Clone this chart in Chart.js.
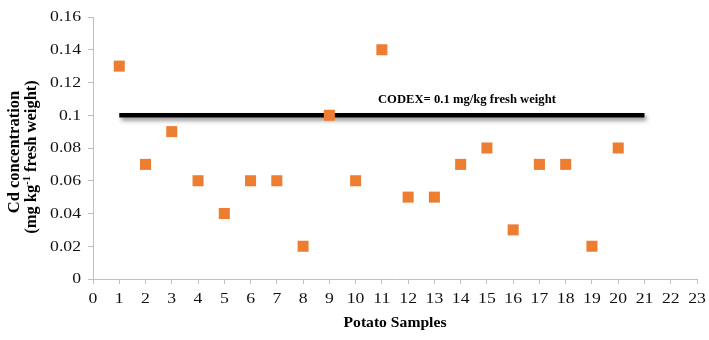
<!DOCTYPE html>
<html>
<head>
<meta charset="utf-8">
<script src="https://cdn.jsdelivr.net/npm/chart.js@4/dist/chart.umd.min.js"></script>
<style>
  html, body { margin: 0; padding: 0; background: #fff; }
  #wrap { width: 709px; height: 340px; }
</style>
</head>
<body>
<div id="wrap"><canvas id="c" width="709" height="340"></canvas></div>
<script>
// Potato sample numbers and measured Cd levels (mg/kg fresh weight)
const samples = [1,2,3,4,5,6,7,8,9,10,11,12,13,14,15,16,17,18,19,20];
const cdValues = [0.13,0.07,0.09,0.06,0.04,0.06,0.06,0.02,0.10,0.06,0.14,0.05,0.05,0.07,0.08,0.03,0.07,0.07,0.02,0.08];
// Axis tick labels
const xTickValues = [0,1,2,3,4,5,6,7,8,9,10,11,12,13,14,15,16,17,18,19,20,21,22,23];
const yTickLabels = ['0','0.02','0.04','0.06','0.08','0.1','0.12','0.14','0.16'];
// CODEX limit drawn as a horizontal reference line
const codexLimit = 0.1;
const codexSpan = [1, 21];
const codexLabel = 'CODEX= 0.1 mg/kg fresh weight';
const xTitle = 'Potato Samples';
const yTitleLine1 = 'Cd concentration';
const yTitleLine2 = ['(mg kg', '-1', ' fresh weight)'];

const serif = "'Liberation Serif', 'Times New Roman', serif";
const WIDE = 1.18; // glyphs are set slightly wide

// draw text with a horizontal stretch; align: 'left' | 'center' | 'right'
function wideText(ctx, text, x, y, font, align, sx) {
  ctx.save();
  ctx.font = font;
  ctx.textAlign = 'left';
  const w = ctx.measureText(text).width * sx;
  let left = x;
  if (align === 'center') left = x - w / 2;
  if (align === 'right') left = x - w;
  ctx.translate(left, y);
  ctx.scale(sx, 1);
  ctx.fillText(text, 0, 0);
  ctx.restore();
}

const shadowPlugin = {
  id: 'lineShadow',
  beforeDatasetDraw(chart, args) {
    if (args.index === 1) {
      const ctx = chart.ctx;
      ctx.save();
      ctx.shadowColor = 'rgba(0,0,0,0.45)';
      ctx.shadowBlur = 4;
      ctx.shadowOffsetX = 2;
      ctx.shadowOffsetY = 3;
    }
  },
  afterDatasetDraw(chart, args) {
    if (args.index === 1) chart.ctx.restore();
  }
};

const textPlugin = {
  id: 'chartText',
  afterDraw(chart) {
    const ctx = chart.ctx;
    const xs = chart.scales.x, ys = chart.scales.y;
    ctx.save();
    ctx.fillStyle = '#111';
    ctx.textBaseline = 'middle';
    const tickFont = '15px ' + serif;
    xTickValues.forEach(v => {
      wideText(ctx, String(v), xs.getPixelForValue(v), 299, tickFont, 'center', WIDE);
    });
    yTickLabels.forEach(t => {
      wideText(ctx, t, 81, ys.getPixelForValue(parseFloat(t)) + 0.5, tickFont, 'right', WIDE);
    });

    // CODEX annotation above the limit line
    ctx.fillStyle = '#000';
    ctx.textBaseline = 'alphabetic';
    const codexFont = 'bold 13px ' + serif;
    ctx.font = codexFont;
    const cw = ctx.measureText(codexLabel).width;
    wideText(ctx, codexLabel, xs.getPixelForValue(10.85), ys.getPixelForValue(codexLimit) - 12, codexFont, 'left', 178 / cw);

    // x axis title
    const titleFont = 'bold 15px ' + serif;
    ctx.font = titleFont;
    const tw = ctx.measureText(xTitle).width;
    wideText(ctx, xTitle, 395, 327, titleFont, 'center', 103 / tw);

    // y axis title, two rotated lines (baseline on the right side)
    const yFont = 'bold 16.5px ' + serif;
    const supFont = 'bold 10.5px ' + serif;
    ctx.textBaseline = 'alphabetic';

    ctx.save();
    ctx.translate(19, 152);
    ctx.rotate(-Math.PI / 2);
    ctx.scale(1, 1.04);
    ctx.textAlign = 'center';
    ctx.font = yFont;
    ctx.fillText(yTitleLine1, 0, 0);
    ctx.restore();

    ctx.save();
    ctx.translate(36, 157);
    ctx.rotate(-Math.PI / 2);
    ctx.scale(1, 1.04);
    ctx.textAlign = 'left';
    ctx.font = yFont;
    const w0 = ctx.measureText(yTitleLine2[0]).width;
    const w2 = ctx.measureText(yTitleLine2[2]).width;
    ctx.font = supFont;
    const w1 = ctx.measureText(yTitleLine2[1]).width;
    let pos = -(w0 + w1 + w2) / 2;
    ctx.font = yFont;
    ctx.fillText(yTitleLine2[0], pos, 0);
    pos += w0;
    ctx.font = supFont;
    ctx.fillText(yTitleLine2[1], pos, -6);
    pos += w1;
    ctx.font = yFont;
    ctx.fillText(yTitleLine2[2], pos, 0);
    ctx.restore();

    ctx.restore();
  }
};

new Chart(document.getElementById('c'), {
  type: 'scatter',
  data: {
    datasets: [
      {
        label: 'Cd',
        data: samples.map((s, i) => ({ x: s, y: cdValues[i] })),
        pointStyle: 'rect',
        pointRadius: 7.8,
        pointHoverRadius: 7.8,
        pointBorderWidth: 0,
        backgroundColor: '#ED7D31',
        borderColor: '#ED7D31',
        order: 0
      },
      {
        label: 'CODEX',
        type: 'line',
        data: codexSpan.map(x => ({ x: x, y: codexLimit })),
        borderColor: '#000',
        borderWidth: 4.6,
        pointRadius: 0,
        borderCapStyle: 'butt',
        order: 1
      }
    ]
  },
  options: {
    responsive: false,
    animation: false,
    events: [],
    layout: { padding: { top: 17, right: 12, left: 0, bottom: 0 } },
    plugins: { legend: { display: false }, tooltip: { enabled: false } },
    scales: {
      x: {
        type: 'linear',
        min: 0, max: 23,
        ticks: { stepSize: 1, color: 'rgba(0,0,0,0)', font: { family: serif, size: 15 }, maxRotation: 0, autoSkip: false },
        grid: { display: true, drawOnChartArea: false, drawTicks: true, tickLength: 5, color: '#bfbfbf' },
        border: { color: '#bfbfbf', width: 1 },
        title: { display: false },
        afterFit(scale) { scale.height = 61; }
      },
      y: {
        min: 0, max: 0.16,
        ticks: { stepSize: 0.02, color: 'rgba(0,0,0,0)', font: { family: serif, size: 15 } },
        grid: { display: true, drawOnChartArea: false, drawTicks: true, tickLength: 5, color: '#bfbfbf' },
        border: { color: '#bfbfbf', width: 1 },
        title: { display: false },
        afterFit(scale) { scale.width = 93; }
      }
    }
  },
  plugins: [shadowPlugin, textPlugin]
});
</script>
</body>
</html>
